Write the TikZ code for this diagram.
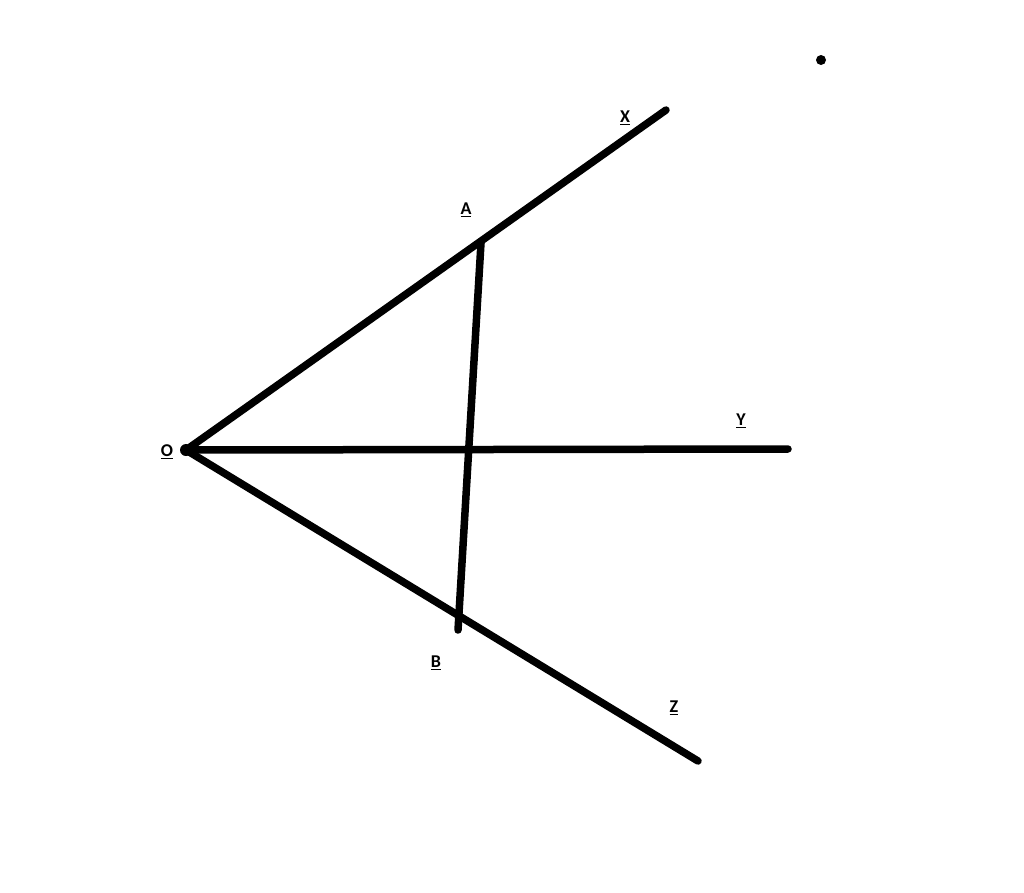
\documentclass[tikz,border=0pt]{standalone}
\usepackage{fontspec}
\setmainfont{Carlito}
\begin{document}
\begin{tikzpicture}[x=1pt,y=-1pt,
  ray/.style={line width=7.5pt,line cap=round,black},
  lab/.style={font=\fontsize{18}{20}\selectfont\bfseries,text=black,inner sep=0pt}]
\useasboundingbox[fill=white] (0,0) rectangle (1024,892);
\coordinate (O) at (186,450);
\coordinate (X) at (666,110);
\coordinate (Y) at (788,449);
\coordinate (Z) at (698,761);
\coordinate (A) at (481,243);
\coordinate (B) at (458,630);
\draw[ray] (O) -- (X);
\draw[ray] (O) -- (Y);
\draw[ray] (O) -- (Z);
\draw[ray] (A) -- (B);
\fill (O) circle (6);
\fill (821,60) circle (5);
\node[lab] (lO) at (167,452) {\underline{O}};
\node[lab] (lA) at (466,210) {\underline{A}};
\node[lab] (lB) at (436,663) {\underline{B}};
\node[lab] (lX) at (625,118) {\underline{X}};
\node[lab] (lY) at (741,421) {\underline{Y}};
\node[lab] (lZ) at (674,708) {\underline{Z}};
\end{tikzpicture}
\end{document}
